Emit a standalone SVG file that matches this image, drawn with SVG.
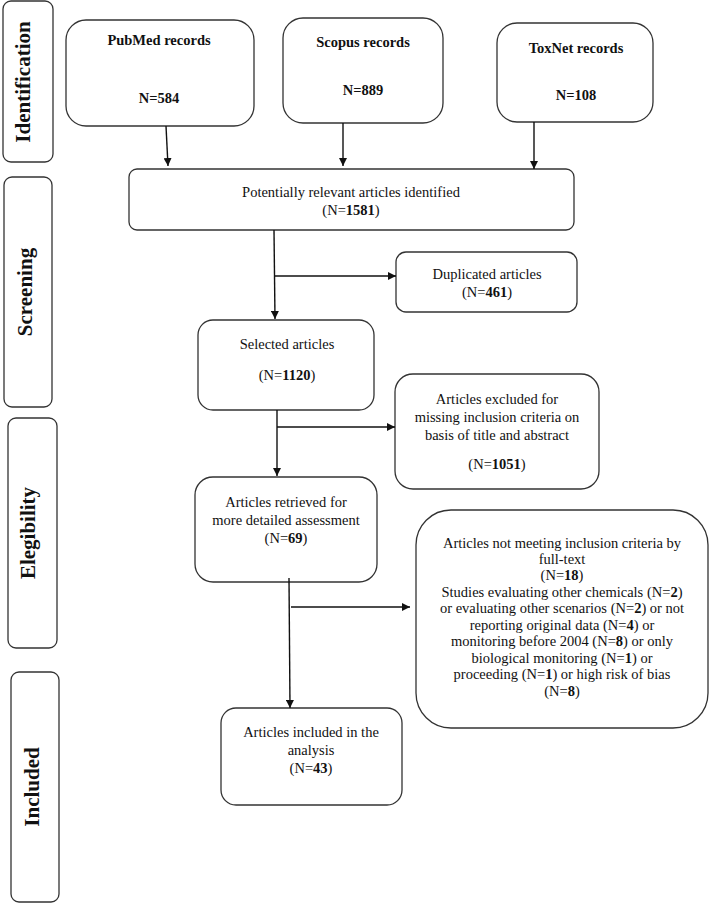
<svg xmlns="http://www.w3.org/2000/svg" width="709" height="904" viewBox="0 0 709 904">
<defs>
<style>
.box{fill:#fff;stroke:#333;stroke-width:1.3}
.t{font-family:"Liberation Serif","Times New Roman",serif;font-size:14.5px;fill:#111;text-anchor:middle}
.b{font-weight:bold}
.stage{font-family:"Liberation Serif","Times New Roman",serif;font-size:21px;font-weight:bold;fill:#111;text-anchor:middle}
.ln{fill:none;stroke:#111;stroke-width:1.4}
</style>
<marker id="ah" viewBox="0 0 10 10" refX="10" refY="5" markerWidth="8" markerHeight="8" markerUnits="userSpaceOnUse" orient="auto">
<path d="M0,0 L10,5 L0,10 z" fill="#111"/>
</marker>
</defs>
<rect width="709" height="904" fill="#fff"/>

<g id="stage-identification">
<rect class="box" x="3" y="1" width="50" height="161" rx="8"/>
<text class="stage" transform="translate(30,82) rotate(-90)">Identification</text>
</g>
<g id="stage-screening">
<rect class="box" x="4" y="177" width="48" height="230" rx="8"/>
<text class="stage" transform="translate(32,292) rotate(-90)">Screening</text>
</g>
<g id="stage-elegibility">
<rect class="box" x="8" y="418" width="49" height="230" rx="8"/>
<text class="stage" transform="translate(35,533) rotate(-90)">Elegibility</text>
</g>
<g id="stage-included">
<rect class="box" x="11" y="672" width="48" height="230" rx="8"/>
<text class="stage" transform="translate(39,787) rotate(-90)">Included</text>
</g>

<g id="pubmed">
<rect class="box" x="66" y="20" width="188" height="106" rx="20"/>
<text class="t b" x="159" y="45">PubMed records</text>
<text class="t b" x="159" y="103">N=584</text>
</g>
<g id="scopus">
<rect class="box" x="283" y="18" width="160" height="105" rx="20"/>
<text class="t b" x="363" y="47">Scopus records</text>
<text class="t b" x="363" y="95">N=889</text>
</g>
<g id="toxnet">
<rect class="box" x="497" y="23" width="156" height="99" rx="20"/>
<text class="t b" x="576" y="53">ToxNet records</text>
<text class="t b" x="576" y="100">N=108</text>
</g>

<g id="potential">
<rect class="box" x="129" y="169" width="445" height="61" rx="8"/>
<text class="t" x="351" y="197">Potentially relevant articles identified</text>
<text class="t" x="351" y="215">(N=<tspan class="b">1581</tspan>)</text>
</g>
<g id="duplicated">
<rect class="box" x="396" y="252" width="181" height="60" rx="10"/>
<text class="t" x="487" y="279">Duplicated articles</text>
<text class="t" x="487" y="297">(N=<tspan class="b">461</tspan>)</text>
</g>
<g id="selected">
<rect class="box" x="198" y="320" width="176" height="90" rx="15"/>
<text class="t" x="287" y="349">Selected articles</text>
<text class="t" x="287" y="380">(N=<tspan class="b">1120</tspan>)</text>
</g>
<g id="excluded">
<rect class="box" x="395" y="374" width="204" height="115" rx="18"/>
<text class="t" x="497" y="404">Articles excluded for</text>
<text class="t" x="497" y="422">missing inclusion criteria on</text>
<text class="t" x="497" y="440">basis of title and abstract</text>
<text class="t" x="497" y="469">(N=<tspan class="b">1051</tspan>)</text>
</g>
<g id="retrieved">
<rect class="box" x="195" y="477" width="182" height="105" rx="18"/>
<text class="t" x="286" y="507">Articles retrieved for</text>
<text class="t" x="286" y="525">more detailed assessment</text>
<text class="t" x="286" y="543">(N=<tspan class="b">69</tspan>)</text>
</g>
<g id="fulltext-excluded">
<rect class="box" x="416" y="510" width="292" height="218" rx="35"/>
<text class="t" x="562" y="548">Articles not meeting inclusion criteria by</text>
<text class="t" x="562" y="564">full-text</text>
<text class="t" x="562" y="580">(N=<tspan class="b">18</tspan>)</text>
<text class="t" x="562" y="597">Studies evaluating other chemicals (N=<tspan class="b">2</tspan>)</text>
<text class="t" x="562" y="613">or evaluating other scenarios (N=<tspan class="b">2</tspan>) or not</text>
<text class="t" x="562" y="630">reporting original data (N=<tspan class="b">4</tspan>) or</text>
<text class="t" x="562" y="646">monitoring before 2004 (N=<tspan class="b">8</tspan>) or only</text>
<text class="t" x="562" y="663">biological monitoring (N=<tspan class="b">1</tspan>) or</text>
<text class="t" x="562" y="679">proceeding (N=<tspan class="b">1</tspan>) or high risk of bias</text>
<text class="t" x="562" y="696">(N=<tspan class="b">8</tspan>)</text>
</g>
<g id="included">
<rect class="box" x="221" y="708" width="181" height="97" rx="15"/>
<text class="t" x="311" y="737">Articles included in the</text>
<text class="t" x="311" y="755">analysis</text>
<text class="t" x="311" y="773">(N=<tspan class="b">43</tspan>)</text>
</g>

<g id="connectors">
<line class="ln" x1="166" y1="126" x2="168" y2="166" marker-end="url(#ah)"/>
<line class="ln" x1="343" y1="123" x2="343" y2="166" marker-end="url(#ah)"/>
<line class="ln" x1="534" y1="122" x2="534" y2="169" marker-end="url(#ah)"/>
<line class="ln" x1="274" y1="230" x2="275" y2="319" marker-end="url(#ah)"/>
<line class="ln" x1="275" y1="276" x2="396" y2="276" marker-end="url(#ah)"/>
<line class="ln" x1="277" y1="410" x2="277" y2="476" marker-end="url(#ah)"/>
<line class="ln" x1="277" y1="427" x2="395" y2="427" marker-end="url(#ah)"/>
<line class="ln" x1="289" y1="578" x2="290" y2="708" marker-end="url(#ah)"/>
<line class="ln" x1="291" y1="607" x2="410" y2="607" marker-end="url(#ah)"/>
</g>
</svg>
